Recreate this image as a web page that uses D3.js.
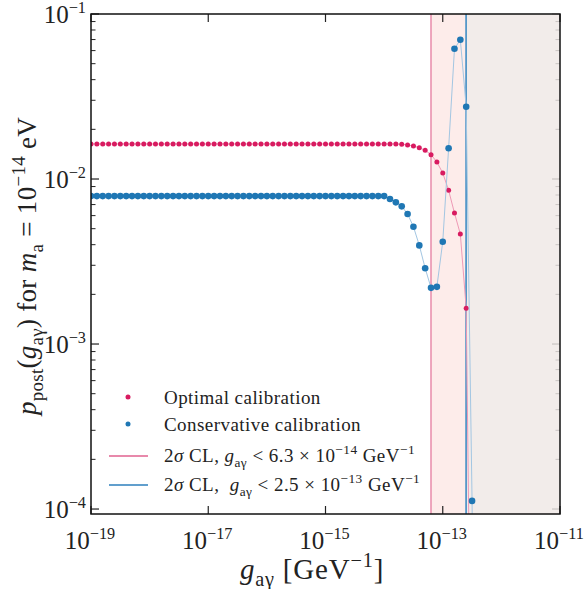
<!DOCTYPE html>
<html>
<head>
<meta charset="utf-8">
<script src="https://cdn.jsdelivr.net/npm/d3@7"></script>
<style>
  body { margin: 0; background: #fff; }
  text { font-family: "Liberation Serif", "DejaVu Serif", serif; fill: #222; }
</style>
</head>
<body>
<div id="chart"></div>
<script>
// log10 of g_ag grid
var gExp = [
  -19, -18.9, -18.8, -18.7, -18.6, -18.5, -18.4, -18.3, -18.2, -18.1,
  -18, -17.9, -17.8, -17.7, -17.6, -17.5, -17.4, -17.3, -17.2, -17.1,
  -17, -16.9, -16.8, -16.7, -16.6, -16.5, -16.4, -16.3, -16.2, -16.1,
  -16, -15.9, -15.8, -15.7, -15.6, -15.5, -15.4, -15.3, -15.2, -15.1,
  -15, -14.9, -14.8, -14.7, -14.6, -14.5, -14.4, -14.3, -14.2, -14.1,
  -14, -13.9, -13.8, -13.7, -13.6, -13.5, -13.4, -13.3, -13.2, -13.1,
  -13, -12.9, -12.8, -12.7, -12.6, -12.5, -12.4
];
var optimal = [
  0.0163, 0.0163, 0.0163, 0.0163, 0.0163, 0.0163, 0.0163, 0.0163, 0.0163, 0.0163,
  0.0163, 0.0163, 0.0163, 0.0163, 0.0163, 0.0163, 0.0163, 0.0163, 0.0163, 0.0163,
  0.0163, 0.0163, 0.0163, 0.0163, 0.0163, 0.0163, 0.0163, 0.0163, 0.0163, 0.0163,
  0.0163, 0.0163, 0.0163, 0.0163, 0.0163, 0.0163, 0.0163, 0.0163, 0.0163, 0.0163,
  0.0163, 0.0163, 0.0163, 0.0163, 0.0163, 0.0163, 0.0163, 0.0163, 0.0163, 0.0163,
  0.0163, 0.0163, 0.0163, 0.01623, 0.01607, 0.01585, 0.01548, 0.01493, 0.01404, 0.01268,
  0.01087, 0.00854, 0.00622, 0.00464, 0.00165, 2e-6, 1e-8
];
var conservative = [
  0.00788, 0.00788, 0.00788, 0.00788, 0.00788, 0.00788, 0.00788, 0.00788, 0.00788, 0.00788,
  0.00788, 0.00788, 0.00788, 0.00788, 0.00788, 0.00788, 0.00788, 0.00788, 0.00788, 0.00788,
  0.00788, 0.00788, 0.00788, 0.00788, 0.00788, 0.00788, 0.00788, 0.00788, 0.00788, 0.00788,
  0.00788, 0.00788, 0.00788, 0.00788, 0.00788, 0.00788, 0.00788, 0.00788, 0.00788, 0.00788,
  0.00788, 0.00788, 0.00788, 0.00788, 0.00788, 0.00788, 0.00788, 0.00788, 0.00788, 0.00788,
  0.00788, 0.00756, 0.00722, 0.00683, 0.00614, 0.00514, 0.00396, 0.00288, 0.00219, 0.00222,
  0.00417, 0.01535, 0.0616, 0.0698, 0.0274, 0.000112, 1e-8
];
var limitOptimal = 6.3e-14;
var limitConservative = 2.5e-13;
var xTickExp = [-19, -17, -15, -13, -11];
var yTickExp = [-4, -3, -2, -1];

(function () {
    var W = 584, H = 589;
    var pL = 91, pR = 560, pT = 14, pB = 514;
    var yMin = 9.33e-5;

    var svg = d3.select("#chart").append("svg").attr("width", W).attr("height", H);

    var x = d3.scaleLog().domain([1e-19, 1e-11]).range([pL, pR]);
    var y = d3.scaleLog().domain([yMin, 0.1]).range([pB, pT]);

    var red = "#d81b60", blue = "#1f77b4";

    // rich text: parts {t, i, sub, sup}
    function rich(sel, parts, size, scr) {
        var cur = 0;
        scr = scr || 0.7;
        parts.forEach(function (p) {
            var target = p.sup ? -0.42 * size : (p.sub ? 0.25 * size : 0);
            var ts = sel.append("tspan").text(p.t).attr("dy", target - cur);
            cur = target;
            if (p.sup || p.sub) ts.attr("font-size", size * scr);
            if (p.i) ts.attr("font-style", "italic");
        });
        return sel;
    }

    svg.append("clipPath").attr("id", "clip").append("rect")
        .attr("x", pL).attr("y", pT).attr("width", pR - pL).attr("height", pB - pT);

    var yMinor = [];
    for (var e = -5; e < -1; e++) {
        for (var k = 2; k < 10; k++) yMinor.push(k * Math.pow(10, e));
    }
    yMinor = yMinor.filter(d => d >= yMin && d <= 0.1);
    var yMaj = yTickExp.map(function (d) { return Math.pow(10, d); });
    var xMaj = xTickExp.map(function (d) { return Math.pow(10, d); });

    function ticksY(xPos, dir, color) {
        var g = svg.append("g");
        g.selectAll("line.maj").data(yMaj).join("line").attr("class", "maj")
            .attr("x1", xPos).attr("x2", xPos + dir * 8)
            .attr("y1", d => y(d)).attr("y2", d => y(d))
            .attr("stroke", color).attr("stroke-width", 1.2);
        g.selectAll("line.min").data(yMinor).join("line").attr("class", "min")
            .attr("x1", xPos).attr("x2", xPos + dir * 4.5)
            .attr("y1", d => y(d)).attr("y2", d => y(d))
            .attr("stroke", color).attr("stroke-width", 1);
    }
    ticksY(pL, 1, "#222");

    // shaded regions
    svg.append("rect").attr("x", x(limitOptimal)).attr("y", pT)
        .attr("width", pR - x(limitOptimal)).attr("height", pB - pT)
        .attr("fill", "#fdecea");
    svg.append("rect").attr("x", x(limitConservative)).attr("y", pT)
        .attr("width", pR - x(limitConservative)).attr("height", pB - pT)
        .attr("fill", "#f2ecea");

    ticksY(pR, -1, "#c9c4c2");

    function ticksX(yPos, dir) {
        svg.append("g").selectAll("line").data(xMaj).join("line")
            .attr("x1", d => x(d)).attr("x2", d => x(d))
            .attr("y1", yPos).attr("y2", yPos + dir * 8)
            .attr("stroke", "#222").attr("stroke-width", 1.2);
    }
    ticksX(pB, -1);
    ticksX(pT, 1);

    // limit lines
    svg.append("line").attr("x1", x(limitOptimal)).attr("x2", x(limitOptimal))
        .attr("y1", pT).attr("y2", pB).attr("stroke", "#e47a9f").attr("stroke-width", 1.3);
    svg.append("line").attr("x1", x(limitConservative)).attr("x2", x(limitConservative))
        .attr("y1", pT).attr("y2", pB).attr("stroke", "#3487c2").attr("stroke-width", 1.5);

    var plot = svg.append("g").attr("clip-path", "url(#clip)");

    function series(vals, color, light, r) {
        var pts = gExp.map(function (g, i) { return [Math.pow(10, g), vals[i]]; });
        var line = d3.line().x(d => x(d[0])).y(d => y(d[1]));
        plot.append("path").attr("d", line(pts)).attr("fill", "none")
            .attr("stroke", light).attr("stroke-width", 1);
        plot.append("g").selectAll("circle").data(pts).join("circle")
            .attr("cx", d => x(d[0])).attr("cy", d => y(d[1])).attr("r", r)
            .attr("fill", color);
    }
    series(optimal, red, "#ee9ab6", 2.5);
    series(conservative, blue, "#a3c6e2", 3.3);

    // frame
    svg.append("rect").attr("x", pL).attr("y", pT).attr("width", pR - pL)
        .attr("height", pB - pT).attr("fill", "none").attr("stroke", "#111").attr("stroke-width", 1.5);

    // tick labels
    xTickExp.forEach(function (e) {
        var t = svg.append("text").attr("x", x(Math.pow(10, e)) - 1).attr("y", 549)
            .attr("text-anchor", "middle").attr("font-size", 25);
        rich(t, [{t: "10"}, {t: "\u2212" + Math.abs(e), sup: true}], 25, 0.65);
    });
    yTickExp.forEach(function (e) {
        var t = svg.append("text").attr("x", 86).attr("y", y(Math.pow(10, e)) + 9)
            .attr("text-anchor", "end").attr("font-size", 25);
        rich(t, [{t: "10"}, {t: "\u2212" + Math.abs(e), sup: true}], 25, 0.65);
    });

    // axis titles
    var xl = svg.append("text").attr("x", 312).attr("y", 579).attr("text-anchor", "middle")
        .attr("font-size", 29).attr("letter-spacing", 0.8);
    rich(xl, [{t: "g", i: true}, {t: "a\u03b3", sub: true}, {t: "\u00a0[GeV"}, {t: "\u22121", sup: true}, {t: "]"}], 29);

    var yl = svg.append("text").attr("transform", "translate(36,266) rotate(-90)")
        .attr("text-anchor", "middle").attr("font-size", 27).attr("letter-spacing", 0.3);
    rich(yl, [{t: "p", i: true}, {t: "post", sub: true}, {t: "("}, {t: "g", i: true}, {t: "a\u03b3", sub: true},
        {t: ") for "}, {t: "m", i: true}, {t: "a", sub: true}, {t: " = 10"}, {t: "\u221214", sup: true}, {t: " eV"}], 27);

    // legend
    var lg = svg.append("g").attr("letter-spacing", 0.45);
    lg.append("circle").attr("cx", 128).attr("cy", 397).attr("r", 2.5).attr("fill", red);
    lg.append("circle").attr("cx", 128).attr("cy", 424).attr("r", 2.5).attr("fill", blue);
    lg.append("line").attr("x1", 109).attr("x2", 148).attr("y1", 456).attr("y2", 456).attr("stroke", "#e0628f").attr("stroke-width", 1.3);
    lg.append("line").attr("x1", 109).attr("x2", 148).attr("y1", 485).attr("y2", 485).attr("stroke", "#2c7fbd").attr("stroke-width", 1.3);
    lg.append("text").attr("x", 164).attr("y", 404).attr("font-size", 19).text("Optimal calibration");
    lg.append("text").attr("x", 164).attr("y", 431).attr("font-size", 19).text("Conservative calibration");
    rich(lg.append("text").attr("x", 164).attr("y", 462).attr("font-size", 19),
        [{t: "2"}, {t: "\u03c3", i: true}, {t: " CL, "}, {t: "g", i: true}, {t: "a\u03b3", sub: true},
         {t: " < 6.3 \u00d7 10"}, {t: "\u221214", sup: true}, {t: " GeV"}, {t: "\u22121", sup: true}], 19);
    rich(lg.append("text").attr("x", 164).attr("y", 491).attr("font-size", 19),
        [{t: "2"}, {t: "\u03c3", i: true}, {t: " CL,\u00a0\u00a0"}, {t: "g", i: true}, {t: "a\u03b3", sub: true},
         {t: " < 2.5 \u00d7 10"}, {t: "\u221213", sup: true}, {t: " GeV"}, {t: "\u22121", sup: true}], 19);
})();
</script>
</body>
</html>
